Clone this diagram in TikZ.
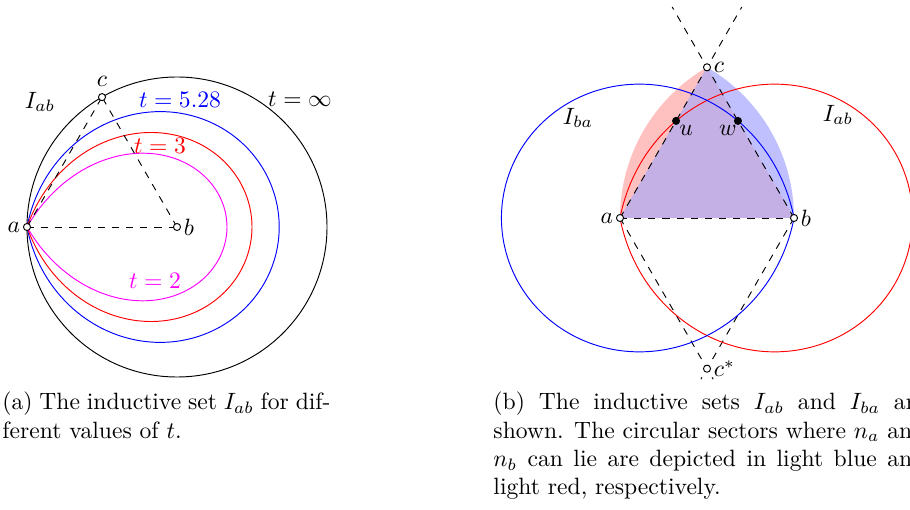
\documentclass[tikz,border=0pt]{standalone}
\newlength\capwb
\definecolor{lred}{RGB}{255,192,192}
\definecolor{lblue}{RGB}{192,192,255}
\definecolor{lpurple}{RGB}{196,176,228}
\definecolor{pmag}{RGB}{255,0,255}
\definecolor{pred}{RGB}{255,0,0}
\definecolor{pblue}{RGB}{0,0,255}
\begin{document}
\begin{tikzpicture}[x=0.4237pt,y=0.4237pt,
  opt/.style={circle,draw,fill=white,inner sep=0pt,minimum size=3pt},
  fdot/.style={circle,fill=black,inner sep=0pt,minimum size=3.4pt},
  ptlbl/.style={inner sep=1pt},
  guide/.style={dashed}]
\useasboundingbox (0,0) rectangle (910,509);
\clip (0,0) rectangle (910,509);
% ---------------- (a) ----------------
\coordinate (A) at (27,282);
\coordinate (B) at (177,282);
\coordinate (C) at (102,411.9);
\draw (B) circle[radius=150];
\draw[pblue] plot[domain=-79.08:79.08,samples=240,variable=\q]
  ({27+311.16*(cos(\q)-0.189394)*cos(\q)},{282+311.16*(cos(\q)-0.189394)*sin(\q)});
\draw[pred] plot[domain=-70.52:70.52,samples=240,variable=\q]
  ({27+337.5*(cos(\q)-0.333333)*cos(\q)},{282+337.5*(cos(\q)-0.333333)*sin(\q)});
\draw[pmag] plot[domain=-60:60,samples=240,variable=\q]
  ({27+400*(cos(\q)-0.5)*cos(\q)},{282+400*(cos(\q)-0.5)*sin(\q)});
\draw[guide] (A) -- (B);
\draw[guide] (A) -- (C);
\draw[guide] (B) -- (C);
\node[opt] (pa) at (A) {};
\node[opt] (pb) at (B) {};
\node[opt] (pc) at (C) {};
\node[ptlbl,anchor=east] (la) at (pa.west) {$a$};
\node[ptlbl,anchor=west] (lb) at (pb.east) {$b$};
\node[inner sep=2.5pt,anchor=south] (lc) at (pc.north) {$c$};
\node (lIab) at (40,407) {$I_{ab}$};
\node[pblue] (lt1) at (180,409) {$t=5.28$};
\node[pred] (lt2) at (160,363) {$t=3$};
\node[pmag] (lt3) at (155,228) {$t=2$};
\node (lt4) at (300,410) {$t=\infty$};
% ---------------- (b) ----------------
\coordinate (A2) at (620,291);
\coordinate (B2) at (794,291);
\coordinate (C2) at (707,441.7);
\coordinate (D2) at (707,140.3);
\coordinate (U) at (676.05,388.1);
\coordinate (W) at (737.95,388.1);
\coordinate (E1) at (741.8,502);
\coordinate (E2) at (672.2,502);
\coordinate (E3) at (713.1,129.8);
\coordinate (E4) at (700.9,129.8);
\fill[lred] (B2) -- (A2) arc[start angle=180,end angle=120,radius=174] -- cycle;
\fill[lblue] (A2) -- (B2) arc[start angle=0,end angle=60,radius=174] -- cycle;
\fill[lpurple] (A2) -- (B2) -- (C2) -- cycle;
\draw[guide] (A2) -- (B2);
\draw[guide] (A2) -- (E1);
\draw[guide] (B2) -- (E2);
\draw[guide] (A2) -- (E3);
\draw[guide] (B2) -- (E4);
\draw[pred] plot[domain=-79.08:79.08,samples=240,variable=\q]
  ({620+360.95*(cos(\q)-0.189394)*cos(\q)},{291+360.95*(cos(\q)-0.189394)*sin(\q)});
\draw[pblue] plot[domain=-79.08:79.08,samples=240,variable=\q]
  ({794-360.95*(cos(\q)-0.189394)*cos(\q)},{291+360.95*(cos(\q)-0.189394)*sin(\q)});
\node[opt] (qa) at (A2) {};
\node[opt] (qb) at (B2) {};
\node[opt] (qc) at (C2) {};
\node[opt] (qd) at (D2) {};
\node[fdot] (qu) at (U) {};
\node[fdot] (qw) at (W) {};
\node[ptlbl,anchor=east] (ma) at (qa.west) {$a$};
\node[ptlbl,anchor=west] (mb) at (qb.east) {$b$};
\node[ptlbl,anchor=west] (mc) at (qc.east) {$c$};
\node[ptlbl,anchor=west] (md) at (qd.east) {$c^{*}$};
\node (mu) at (686,379) {$u$};
\node (mw) at (728,379) {$w$};
\node (mIba) at (578,391) {$I_{ba}$};
\node (mIab) at (838,394) {$I_{ab}$};
% ---------------- captions ----------------
\node[anchor=base west,inner sep=0pt] (capa) at (2,99)
  {\parbox[t]{139pt}{(a) The inductive set $I_{ab}$ for dif-\linebreak ferent values of $t$.}};
\node[anchor=base west,inner sep=0pt] (capb) at (493,99)
  {\settowidth{\capwb}{shown. The circular sectors where $n_a$ and}\parbox[t]{\capwb}{(b) The inductive sets $I_{ab}$ and $I_{ba}$ are\linebreak shown. The circular sectors where $n_a$ and\linebreak $n_b$ can lie are depicted in light blue and\linebreak light red, respectively.}};
\end{tikzpicture}
\end{document}
